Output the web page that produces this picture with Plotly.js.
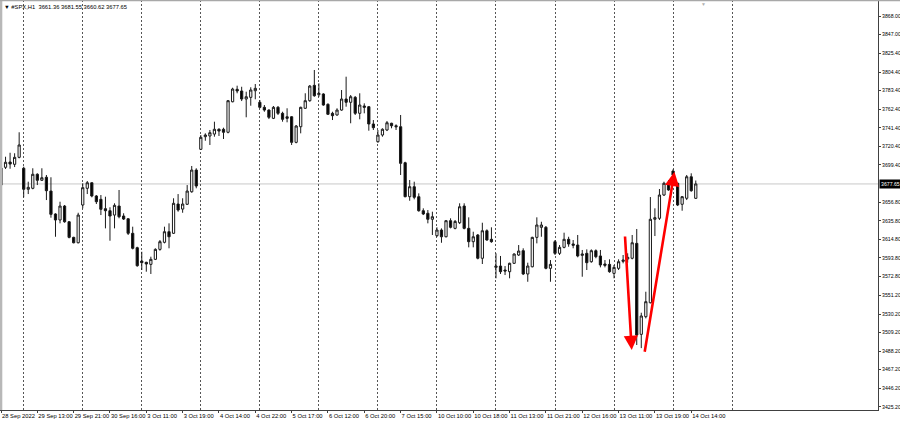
<!DOCTYPE html>
<html>
<head>
<meta charset="utf-8">
<script src="https://cdn.plot.ly/plotly-3.0.1.min.js"></script>
<style>html,body{margin:0;padding:0;background:#fff;}#chart{width:900px;height:422px;}</style>
</head>
<body>
<div id="chart"></div>
<script>
// #SPX H1 bars, index 0 = 28 Sep 2022 18:00 (server time)
const openP = [
3676.4,3696.5,3702.5,3699.9,3707.8,3695.4,3671.6,3672.7,3688.6,3681.8,
3685.2,3669.6,3643.6,3636.8,3652.6,3634.8,3617.1,3611.0,3653.8,3672.7,
3679.0,3664.0,3660.2,3649.6,3647.3,3642.4,3652.6,3641.3,3638.2,3621.7,
3605.4,3590.3,3588.8,3586.5,3592.2,3603.5,3611.5,3623.5,3621.7,3654.9,
3649.2,3654.6,3668.8,3693.4,3716.9,3731.2,3732.0,3734.2,3739.6,3739.6,
3736.2,3770.8,3784.9,3783.0,3773.9,3775.8,3783.3,3770.2,3764.5,3761.4,
3752.0,3764.5,3757.7,3753.8,3753.8,3724.8,3742.5,3763.4,3772.0,3789.4,
3778.8,3779.6,3767.9,3757.7,3755.8,3761.4,3773.9,3770.2,3775.8,3757.7,
3766.0,3765.2,3745.6,3725.5,3733.1,3738.8,3746.4,3743.6,3742.5,3701.7,
3663.2,3674.5,3663.2,3647.3,3644.4,3637.6,3619.0,3625.4,3617.8,3636.0,
3627.3,3633.7,3652.6,3627.3,3612.2,3619.8,3593.4,3624.6,3614.9,3583.1,
3584.6,3580.1,3578.2,3587.7,3597.1,3602.0,3575.6,3583.8,3617.1,3628.5,
3628.5,3582.0,3612.2,3599.0,3605.8,3614.9,3609.6,3608.4,3596.7,3599.0,
3589.5,3602.0,3596.0,3586.9,3586.5,3576.3,3582.0,3589.9,3592.6,3593.4,
3610.3,3507.2,3527.2,3543.0,3637.6,3638.7,3665.1,3679.0,3692.3,3678.4,
3654.6,3661.4,3685.8,3661.36
];
const highP = [
3699.1,3708.5,3713.0,3712.4,3736.2,3697.2,3680.2,3695.4,3689.7,3695.4,
3687.8,3685.2,3644.4,3657.5,3653.8,3635.6,3617.8,3645.0,3678.4,3681.0,
3679.5,3665.1,3665.1,3663.2,3651.2,3655.7,3670.8,3644.4,3638.7,3629.2,
3606.5,3600.8,3589.5,3595.2,3604.7,3614.1,3629.2,3633.0,3661.4,3666.2,
3661.4,3676.4,3698.0,3695.4,3733.1,3735.0,3738.8,3748.2,3740.7,3741.4,
3772.8,3786.7,3789.0,3787.8,3782.2,3787.2,3790.9,3772.8,3767.1,3762.2,
3766.0,3766.0,3759.5,3763.4,3754.6,3744.4,3765.2,3780.4,3789.8,3806.8,
3791.7,3780.4,3769.0,3759.5,3763.4,3784.1,3799.2,3778.4,3777.3,3780.4,
3769.0,3766.0,3750.1,3738.8,3740.7,3749.0,3747.0,3745.2,3755.8,3702.8,
3682.1,3680.2,3667.0,3650.0,3648.1,3646.2,3628.5,3627.3,3636.8,3638.7,
3636.8,3655.7,3655.7,3639.8,3623.5,3620.9,3633.7,3626.2,3628.5,3599.0,
3596.0,3584.6,3588.4,3599.0,3608.4,3604.7,3588.4,3617.8,3639.8,3634.8,
3630.0,3591.4,3614.1,3608.4,3622.4,3617.8,3614.1,3619.8,3602.8,3603.5,
3603.5,3603.5,3602.8,3591.4,3592.2,3585.8,3592.2,3597.1,3599.0,3619.8,
3626.6,3531.7,3555.5,3662.8,3650.0,3671.9,3680.2,3682.1,3694.2,3679.0,
3664.0,3687.8,3689.7,3681.55
];
const lowP = [
3673.0,3694.6,3694.9,3696.8,3706.7,3662.5,3666.2,3671.6,3676.4,3681.0,
3659.4,3639.4,3617.8,3633.0,3633.7,3616.0,3610.3,3610.3,3650.0,3666.2,
3662.5,3654.9,3642.4,3627.3,3613.3,3627.3,3638.7,3636.8,3619.8,3603.5,
3583.8,3580.1,3578.2,3575.6,3591.4,3602.0,3610.3,3604.7,3620.9,3646.2,
3645.0,3653.8,3667.7,3672.7,3716.1,3726.6,3721.8,3731.2,3732.0,3728.6,
3735.0,3770.2,3780.4,3771.6,3753.2,3766.3,3773.6,3763.4,3759.5,3751.2,
3751.2,3755.8,3748.2,3747.5,3721.8,3723.7,3735.0,3762.6,3770.8,3776.5,
3776.5,3766.3,3755.8,3750.1,3755.0,3760.6,3765.2,3746.4,3755.8,3750.9,
3757.7,3738.0,3738.8,3724.4,3731.2,3737.6,3740.7,3738.8,3687.8,3662.5,
3658.6,3660.2,3646.2,3642.4,3633.0,3619.8,3617.8,3611.0,3617.1,3627.3,
3626.2,3632.2,3626.2,3605.8,3605.8,3592.2,3586.9,3613.3,3611.0,3570.7,
3575.6,3574.4,3570.7,3586.9,3596.0,3574.4,3566.8,3583.1,3610.3,3617.8,
3580.9,3566.8,3597.1,3597.1,3604.7,3606.5,3604.7,3594.5,3572.5,3580.1,
3588.4,3593.4,3583.1,3583.1,3577.0,3570.7,3580.1,3587.7,3588.4,3592.2,
3495.1,3491.6,3525.3,3542.3,3618.6,3636.8,3664.0,3670.0,3685.8,3652.6,
3647.3,3659.4,3668.8,3660.62
];
const closeP = [
3695.7,3702.2,3700.2,3707.8,3721.8,3671.6,3673.8,3688.6,3681.8,3684.7,
3670.0,3643.2,3636.8,3652.6,3634.8,3617.1,3611.0,3642.4,3673.4,3679.0,
3664.0,3657.5,3648.9,3647.3,3641.3,3653.4,3640.5,3637.9,3621.7,3604.7,
3585.0,3588.4,3586.9,3592.2,3603.5,3612.2,3623.5,3617.8,3655.7,3648.1,
3654.9,3669.6,3693.4,3675.3,3730.5,3733.1,3735.7,3739.6,3737.6,3736.2,
3772.0,3785.2,3783.0,3773.9,3776.5,3784.1,3786.0,3764.5,3761.4,3753.2,
3764.5,3757.7,3750.9,3752.0,3724.8,3743.3,3764.5,3772.0,3788.6,3777.6,
3780.4,3767.1,3756.6,3755.0,3761.4,3773.9,3770.2,3776.5,3757.7,3767.1,
3764.5,3745.6,3741.4,3733.1,3739.6,3747.0,3743.6,3742.5,3701.0,3663.2,
3674.5,3662.5,3647.3,3643.6,3637.6,3640.5,3625.4,3617.8,3636.0,3628.5,
3635.2,3651.8,3627.3,3612.2,3617.8,3593.4,3624.6,3614.1,3612.2,3584.6,
3578.2,3579.0,3587.7,3598.2,3601.6,3575.6,3584.6,3617.1,3631.1,3631.1,
3582.0,3586.5,3599.0,3605.8,3614.9,3609.6,3608.1,3596.0,3598.2,3588.4,
3602.0,3595.2,3585.8,3585.4,3578.2,3583.1,3589.5,3591.4,3594.5,3611.0,
3506.4,3528.0,3544.2,3637.6,3639.4,3665.1,3678.4,3670.8,3687.8,3653.8,
3663.2,3685.8,3670.0,3677.65
];
const timeLabels = ["28 Sep 2022","29 Sep 13:00","29 Sep 21:00","30 Sep 16:00","3 Oct 11:00","3 Oct 19:00","4 Oct 14:00","4 Oct 22:00","5 Oct 17:00","6 Oct 12:00","6 Oct 20:00","7 Oct 15:00","10 Oct 10:00","10 Oct 18:00","11 Oct 13:00","11 Oct 21:00","12 Oct 16:00","13 Oct 11:00","13 Oct 19:00","14 Oct 14:00"];
const timeLabelBars = [0,8,16,24,32,40,48,56,64,72,80,88,96,104,112,120,128,136,144,152];
const dayStartBars = [5,18,31,44,57,70,83,96,109,122,135,148,161];
const priceTicks = [3868.00,3847.00,3825.40,3804.40,3783.40,3762.40,3741.40,3720.40,3699.40,3656.80,3635.80,3614.80,3593.80,3572.80,3551.20,3530.20,3509.20,3488.20,3467.20,3446.20,3425.20];
const symbol = "#SPX,H1";
// red arrows drawn on the chart: [fromBar, fromPrice, toBar, toPrice]
const arrowsDrawn = [[137.4,3619.8,138.9,3489.4],[141.7,3485.7,148.3,3691.5]];

const bars = openP.map((_, i) => i);
const last = openP.length - 1;
const fmt = v => v.toFixed(2);
const FONT = "Liberation Sans, Arial, sans-serif";

const trace = {
  type: 'candlestick',
  x: bars, open: openP, high: highP, low: lowP, close: closeP,
  increasing: {line: {color: '#1a1a1a', width: 1}, fillcolor: '#ffffff'},
  decreasing: {line: {color: '#1a1a1a', width: 1}, fillcolor: '#000000'},
  whiskerwidth: 0,
  hoverinfo: 'skip'
};

const annotations = [
  {xref: 'paper', yref: 'paper', x: 0, y: 1, xanchor: 'left', yanchor: 'top', yshift: -2, xshift: 2,
   showarrow: false, align: 'left',
   text: '▼ ' + symbol + '  ' + [openP[last], highP[last], lowP[last], closeP[last]].map(fmt).join(' '),
   font: {family: FONT, size: 5.8, color: '#000'}},
  {xref: 'paper', yref: 'y', x: 1, y: closeP[last], xanchor: 'left', yanchor: 'middle', xshift: 1,
   showarrow: false, text: fmt(closeP[last]), bgcolor: '#000', borderpad: 1,
   font: {family: FONT, size: 5.2, color: '#fff'}},
  {xref: 'paper', yref: 'paper', x: 0.8007, y: 1, xanchor: 'center', yanchor: 'top', yshift: 1,
   showarrow: false, text: '▼', font: {family: FONT, size: 5, color: '#b0b0b0'}}
];
arrowsDrawn.forEach(a => annotations.push({
  xref: 'x', yref: 'y', axref: 'x', ayref: 'y',
  x: a[2], y: a[3], ax: a[0], ay: a[1], text: '',
  showarrow: true, arrowhead: 2, arrowsize: 1.1, arrowwidth: 2.6, arrowcolor: '#ff0000', standoff: 0
}));

const layout = {
  width: 900, height: 422,
  margin: {l: 0, r: 22, t: 0, b: 12, pad: 0},
  paper_bgcolor: '#fff', plot_bgcolor: '#fff',
  showlegend: false,
  font: {family: FONT, size: 5.8, color: '#000'},
  xaxis: {
    range: [-0.22, 193.13], rangeslider: {visible: false},
    showgrid: false, zeroline: false,
    showline: true, linecolor: '#404040', linewidth: 1,
    tickmode: 'array', tickvals: timeLabelBars, ticktext: timeLabels,
    tickangle: 0, automargin: false,
    ticks: 'outside', ticklen: 2, tickcolor: '#404040',
    ticklabelposition: 'outside right',
    tickfont: {family: FONT, size: 5.8, color: '#000'},
    minor: {tickmode: 'array', tickvals: dayStartBars, showgrid: true, gridcolor: '#555',
            gridwidth: 1, griddash: '2px,2px', ticks: ''}
  },
  yaxis: {
    side: 'right', range: [3421.44, 3886.13], automargin: false,
    showgrid: false, zeroline: false,
    showline: true, linecolor: '#404040', linewidth: 1,
    tickmode: 'array', tickvals: priceTicks, ticktext: priceTicks.map(fmt),
    ticks: 'outside', ticklen: 2, tickcolor: '#404040',
    tickfont: {family: FONT, size: 5.2, color: '#000'}
  },
  shapes: [
    {type: 'line', xref: 'paper', yref: 'y', x0: 0, x1: 1, y0: closeP[last], y1: closeP[last],
     line: {color: '#c8c8c8', width: 1}, layer: 'below'},
    {type: 'line', xref: 'paper', yref: 'paper', x0: 0.0012, x1: 0.0012, y0: 0, y1: 1.03,
     line: {color: '#b8b8b8', width: 2.5}},
    {type: 'line', xref: 'paper', yref: 'paper', x0: 0, x1: 1.03, y0: 0.9985, y1: 0.9985,
     line: {color: '#a8a8a8', width: 1.5}}
  ],
  annotations: annotations
};

Plotly.newPlot('chart', [trace], layout, {staticPlot: true, displayModeBar: false});
</script>
</body>
</html>
